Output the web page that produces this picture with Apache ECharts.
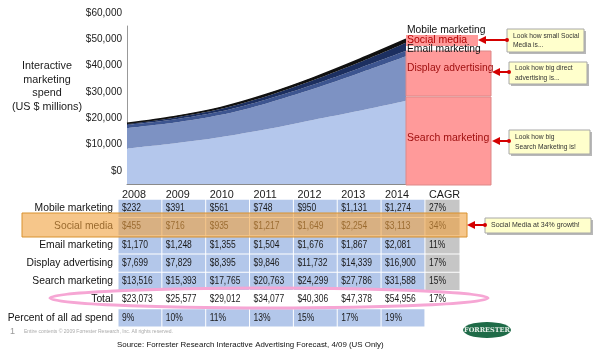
<!DOCTYPE html>
<html><head><meta charset="utf-8">
<script src="https://cdn.jsdelivr.net/npm/echarts@6/dist/echarts.min.js"></script>
<style>html,body{margin:0;padding:0;background:#fff}#c{width:600px;height:355px}</style>
</head><body><div id="c"></div>
<script>
var years = ['2008','2009','2010','2011','2012','2013','2014'];
var mobile = [232,391,561,748,950,1131,1274];
var social = [455,716,935,1217,1649,2254,3113];
var email = [1170,1248,1355,1504,1676,1867,2081];
var display = [7699,7829,8395,9846,11732,14339,16900];
var search = [13516,15393,17765,20763,24299,27786,31588];
var total = [23073,25577,29012,34077,40306,47378,54956];
var percentOfAll = ['9%','10%','11%','13%','15%','17%','19%'];
var cagr = ['27%','34%','11%','17%','15%','17%'];
var rowNames = ['', 'Mobile marketing','Social media','Email marketing','Display advertising','Search marketing','Total','Percent of all ad spend'];

var FONT = 'Arial, "Liberation Sans", sans-serif';
function money(v){ return '$' + v.toLocaleString('en-US'); }

// table cells: [colStart, row, width, text, kind]
var cells = [];
years.forEach(function(y,i){ cells.push([i,0,1,y,'head']); });
cells.push([7,0,0.8,'CAGR','head']);
var rowsVals = [mobile, social, email, display, search];
rowsVals.forEach(function(arr, r){
  arr.forEach(function(v,i){ cells.push([i, r+1, 1, money(v), 'blue']); });
  cells.push([7, r+1, 0.8, cagr[r], 'grey']);
});
total.forEach(function(v,i){ cells.push([i,6,1,money(v),'none']); });
cells.push([7,6,0.8,cagr[5],'none']);
percentOfAll.forEach(function(v,i){ cells.push([i,7,1,v,'blue']); });

function renderCell(params, api){
  var x0 = api.value(0), row = api.value(1), w = api.value(2);
  var p0 = api.coord([x0, row]);
  var sz = api.size([w, 1]);
  var kind = cells[params.dataIndex][4];
  var text = cells[params.dataIndex][3];
  var left = p0[0], top = p0[1] - sz[1]/2;
  var children = [];
  if (kind === 'blue' || kind === 'grey') {
    children.push({type:'rect', shape:{x:left+0.5, y:top+0.5, width:sz[0]-1, height:sz[1]-1},
      style:{fill: kind==='blue' ? '#b3c7ea' : '#c6c6c6'}});
  }
  if (kind === 'head') {
    children.push({type:'text', x:left+4, y:top+sz[1]+1,
      style:{text:text, x:0, y:0, textAlign:'left', textVerticalAlign:'bottom', font:'10.8px ' + FONT, fill:'#1a1a1a'}});
  } else {
    children.push({type:'text', x:left+4, y:p0[1], scaleX:0.85,
      style:{text:text, x:0, y:0, textAlign:'left', textVerticalAlign:'middle', font:'10px ' + FONT, fill:'#1a1a1a'}});
  }
  return {type:'group', children:children};
}

function arrow(xDot, xHead, y){
  return [
    {type:'line', shape:{x1:xDot, y1:y, x2:xHead+6, y2:y}, style:{stroke:'#d40000', lineWidth:2}, z:60},
    {type:'polygon', shape:{points:[[xHead,y],[xHead+8,y-4],[xHead+8,y+4]]}, style:{fill:'#d40000'}, z:60},
    {type:'circle', shape:{cx:xDot, cy:y, r:2}, style:{fill:'#d40000'}, z:60}
  ];
}
function callout(x,y,w,h,txt,fs){
  return [
    {type:'rect', shape:{x:x+2,y:y+2,width:w,height:h}, style:{fill:'#b8b8b8'}, z:55},
    {type:'rect', shape:{x:x,y:y,width:w,height:h}, style:{fill:'#ffffcc', stroke:'#a8a8a8', lineWidth:1}, z:56},
    {type:'text', style:{text:txt, x:x+6, y:y+h/2, textVerticalAlign:'middle', font:(fs||6.7)+'px ' + FONT, fill:'#333', lineHeight:9.5}, z:57}
  ];
}

var graphics = [
  {type:'text', style:{text:'Interactive\nmarketing\nspend\n(US $ millions)', x:47, y:86.5, textAlign:'center', textVerticalAlign:'middle', font:'10.8px '+FONT, fill:'#1a1a1a', lineHeight:13.7}},
  // right-hand labels
  {type:'rect', shape:{x:406,y:35,width:72,height:11}, style:{fill:'#ff9a9a'}, z:20},
  {type:'rect', shape:{x:406,y:51,width:85,height:45}, style:{fill:'#ff9a9a', stroke:'#d88', lineWidth:1}, z:20},
  {type:'rect', shape:{x:406,y:97,width:85,height:88}, style:{fill:'#ff9a9a', stroke:'#d88', lineWidth:1}, z:20},
  {type:'text', style:{text:'Mobile marketing', x:407, y:30, textVerticalAlign:'middle', font:'10.3px '+FONT, fill:'#111'}, z:21},
  {type:'text', style:{text:'Social media', x:407, y:40.5, textVerticalAlign:'middle', font:'10.5px '+FONT, fill:'#b00000'}, z:21},
  {type:'text', style:{text:'Email marketing', x:407, y:49, textVerticalAlign:'middle', font:'10.3px '+FONT, fill:'#111'}, z:21},
  {type:'text', style:{text:'Display advertising', x:407, y:68, textVerticalAlign:'middle', font:'10.3px '+FONT, fill:'#a01010'}, z:21},
  {type:'text', style:{text:'Search marketing', x:407, y:138, textVerticalAlign:'middle', font:'10.5px '+FONT, fill:'#a01010'}, z:21},
  // orange band over social media row
  {type:'rect', shape:{x:22,y:213,width:445,height:24}, style:{fill:'rgba(240,160,60,0.6)', stroke:'#d9922e', lineWidth:1}, z:50},
  // total ellipse
  {type:'ellipse', shape:{cx:269, cy:298, rx:219, ry:10}, style:{fill:'none', stroke:'#f6a6d4', lineWidth:3}, z:50},
  // footer
  {type:'text', style:{text:'1', x:10, y:332, textVerticalAlign:'middle', font:'9px '+FONT, fill:'#999'}},
  {type:'text', style:{text:'Entire contents \u00a9 2009 Forrester Research, Inc. All rights reserved.', x:24, y:332, textVerticalAlign:'middle', font:'5px '+FONT, fill:'#aaa'}},
  {type:'text', style:{text:'Source: Forrester Research Interactive Advertising Forecast, 4/09 (US Only)', x:117, y:345, textVerticalAlign:'middle', font:'7.9px '+FONT, fill:'#111'}},
  {type:'ellipse', shape:{cx:487, cy:330, rx:24, ry:8}, style:{fill:'#1f6b48'}},
  {type:'text', style:{text:'FORRESTER', x:487, y:330.5, textAlign:'center', textVerticalAlign:'middle', font:'bold 6.5px "DejaVu Serif", serif', fill:'#e8f0ea'}}
];
graphics = graphics
  .concat(callout(507,29,77,23,'Look how small Social\nMedia is...'))
  .concat(callout(509,62,78,22,'Look how big direct\nadvertising is...'))
  .concat(callout(509,130,81,24,'Look how big\nSearch Marketing is!'))
  .concat(callout(485,218,106,15,'Social Media at 34% growth!', 7))
  .concat(arrow(507,478,40)).concat(arrow(509,492,72)).concat(arrow(509,492,141)).concat(arrow(485,467,225));

function areaSeries(name, data, color, lw, lc){
  return {name:name, type:'line', stack:'s', data:data, smooth:0.3, symbol:'none',
    xAxisIndex:0, yAxisIndex:0,
    lineStyle:{width:lw||0, color:lc||color}, areaStyle:{color:color, opacity:1}, itemStyle:{color:color}};
}

var chart = echarts.init(document.getElementById('c'));
chart.setOption({
  animation:false,
  textStyle:{fontFamily:FONT},
  grid:[
    {left:127, top:25, width:279, height:159},
    {left:118, top:181, width:342, height:146}
  ],
  xAxis:[
    {type:'category', gridIndex:0, data:years, boundaryGap:false,
      axisLine:{lineStyle:{color:'#8a8a8a'}}, axisTick:{show:false}, axisLabel:{show:false}},
    {type:'value', gridIndex:1, min:0, max:7.8, show:false}
  ],
  yAxis:[
    {type:'value', gridIndex:0, min:0, max:60000, interval:10000,
      axisLine:{show:true, lineStyle:{color:'#999'}}, axisTick:{show:false}, splitLine:{show:false},
      axisLabel:{color:'#1a1a1a', fontSize:10, margin:5, verticalAlign:'bottom', lineHeight:26,
        formatter:function(v){ return money(v); }}},
    {type:'category', gridIndex:1, inverse:true, data: rowNames,
      axisLine:{show:false}, axisTick:{show:false}, splitLine:{show:false},
      axisLabel:{color:'#111', fontSize:10.3, margin:5}}
  ],
  series:[
    areaSeries('Search marketing', search, '#b4c7ec'),
    areaSeries('Display advertising', display, '#7d92c3'),
    areaSeries('Email marketing', email, '#3d5590'),
    areaSeries('Social media', social, '#1c2f60'),
    areaSeries('Mobile marketing', mobile, '#111111', 1.5, '#111111'),
    {type:'custom', xAxisIndex:1, yAxisIndex:1, renderItem:renderCell,
      data: cells.map(function(c){ return [c[0], c[1], c[2]]; }), z:5}
  ],
  graphic: graphics
});
</script></body></html>
